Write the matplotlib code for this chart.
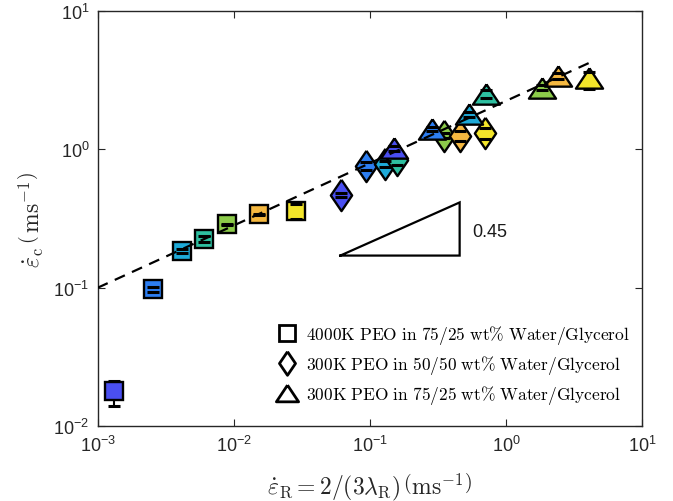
import numpy as np
import matplotlib
matplotlib.use("Agg")
import matplotlib.pyplot as plt
from matplotlib.lines import Line2D
from matplotlib.font_manager import FontProperties

plt.rcParams['font.family'] = ['Liberation Sans', 'DejaVu Sans']
plt.rcParams['axes.unicode_minus'] = False

# ---- data ----
colors = ["#4a4ff0", "#2d7ef2", "#1eaad8", "#2ebfa0", "#8ccb4a", "#f5b840", "#f3e52a"]

# 4000K PEO in 75/25 wt% Water/Glycerol (squares)
sq_x = [0.00132, 0.00255, 0.00416, 0.00607, 0.0090, 0.0154, 0.0288]
sq_y = [0.0179, 0.098, 0.185, 0.226, 0.287, 0.340, 0.360]
sq_lo = [0.0040, 0.004, 0.006, 0.012, 0.004, 0.004, 0.045]
sq_hi = [0.0032, 0.004, 0.006, 0.012, 0.004, 0.004, 0.045]

# 300K PEO in 50/50 wt% Water/Glycerol (diamonds)
di_x = [0.0614, 0.0942, 0.130, 0.158, 0.349, 0.462, 0.706]
di_y = [0.467, 0.755, 0.789, 0.834, 1.26, 1.26, 1.31]
di_lo = [0.015, 0.050, 0.040, 0.060, 0.050, 0.110, 0.130]
di_hi = [0.015, 0.050, 0.040, 0.060, 0.050, 0.110, 0.130]

# 300K PEO in 75/25 wt% Water/Glycerol (triangles)
tr_x = [0.150, 0.286, 0.533, 0.714, 1.85, 2.40, 4.09]
tr_y = [1.02, 1.41, 1.79, 2.51, 2.79, 3.40, 3.29]
tr_lo = [0.04, 0.05, 0.08, 0.16, 0.12, 0.18, 0.55]
tr_hi = [0.04, 0.05, 0.08, 0.16, 0.12, 0.18, 0.35]

labels = [r"$\mathrm{4000K\ PEO\ in\ 75/25\ wt\%\ Water/Glycerol}$",
          r"$\mathrm{300K\ PEO\ in\ 50/50\ wt\%\ Water/Glycerol}$",
          r"$\mathrm{300K\ PEO\ in\ 75/25\ wt\%\ Water/Glycerol}$"]

# power-law fit
fit_pref = 2.24
fit_exp = 0.45
fit_xrange = [0.001, 4.2]

# slope triangle
tri_x = [0.0607, 0.457]
tri_y = [0.171, 0.414]
slope_text = "0.45"

xticks = [1e-3, 1e-2, 1e-1, 1e0, 1e1]
yticks = [1e-2, 1e-1, 1e0, 1e1]

# ---- markers ----
diamond = [(0, 1), (0.68, 0), (0, -1), (-0.68, 0), (0, 1)]
triangle = [(0, 0.75), (1, -0.75), (-1, -0.75), (0, 0.75)]

fig = plt.figure(figsize=(6.73, 5.02), dpi=100)
ax = fig.add_axes([0.145, 0.149, 0.809, 0.827])
ax.set_xscale('log')
ax.set_yscale('log')

series = [
    (sq_x, sq_y, sq_lo, sq_hi, 's', 13.5),
    (di_x, di_y, di_lo, di_hi, diamond, 22.5),
    (tr_x, tr_y, tr_lo, tr_hi, triangle, 19.5),
]
for k, (xs, ys, lo, hi, mk, ms) in enumerate(series):
    base = 3 + 3 * k
    cont = ax.errorbar(xs, ys, yerr=[lo, hi], fmt='none', ecolor='k',
                       elinewidth=1.5, capsize=4.5, capthick=2.2)
    for c in cont[1]:
        c.set_zorder(base + 1.5)
    for c in cont[2]:
        c.set_zorder(base)
    for xi, yi, col in zip(xs, ys, colors):
        ax.plot([xi], [yi], ls='none', marker=mk, ms=ms, mfc=col, mec='k',
                mew=1.7, zorder=base + 1)

xf = np.array(fit_xrange)
ax.plot(xf, fit_pref * xf ** fit_exp, 'k--', lw=1.6, dashes=(5, 3.5), zorder=20)

ax.plot([tri_x[0], tri_x[1], tri_x[1], tri_x[0]],
        [tri_y[0], tri_y[0], tri_y[1], tri_y[0]], 'k-', lw=1.6,
        solid_joinstyle='miter', zorder=20)
ax.text(0.565, 0.255, slope_text, fontsize=13, color='#1a1a1a',
        ha='left', va='center')

ax.set_xlim(1e-3, 1e1)
ax.set_ylim(1e-2, 1e1)
ax.set_xticks(xticks)
ax.set_yticks(yticks)
ax.minorticks_off()
ax.tick_params(which='both', direction='in', length=5, width=0.8,
               top=True, right=True, labelsize=13, colors='#262626',
               pad=6)
for s in ax.spines.values():
    s.set_color('#262626')
    s.set_linewidth(1.0)

ax.set_xlabel(r"$\dot{\varepsilon}_{\rm R} = 2/(3\lambda_{\rm R})\,\left(\mathrm{ms}^{-1}\right)$",
              fontsize=17, color='#262626', math_fontfamily='cm', labelpad=12)
ax.set_ylabel(r"$\dot{\varepsilon}_{\rm c}\,\left(\,\mathrm{ms}^{-1}\right)$",
              fontsize=17, color='#262626', math_fontfamily='cm', labelpad=5)

handles = [
    Line2D([], [], ls='none', marker='s', ms=11, mfc='white', mec='k', mew=2),
    Line2D([], [], ls='none', marker=diamond, ms=17, mfc='white', mec='k', mew=2),
    Line2D([], [], ls='none', marker=triangle, ms=16, mfc='white', mec='k', mew=2),
]
leg = ax.legend(handles, labels, loc='lower right', bbox_to_anchor=(1.0, 0.02),
                frameon=False, prop=FontProperties(size=12.5, math_fontfamily='cm'),
                labelspacing=0.4, handletextpad=0.5, handlelength=1.2,
                borderaxespad=0.3)

fig.savefig("out.png", dpi=100)
